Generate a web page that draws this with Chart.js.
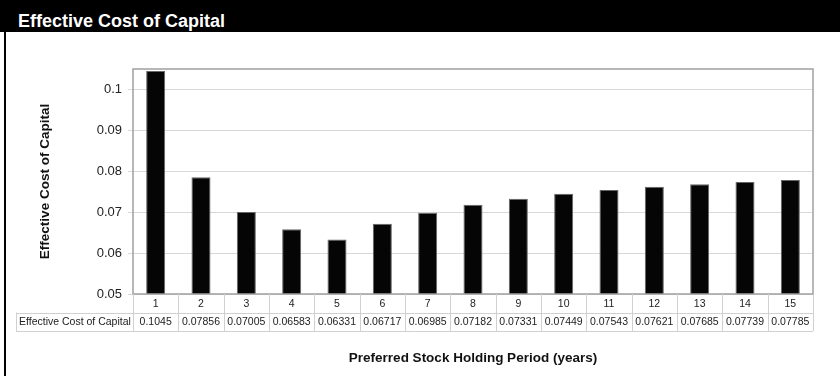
<!DOCTYPE html>
<html>
<head>
<meta charset="utf-8">
<script src="https://cdn.jsdelivr.net/npm/chart.js@4"></script>
<style>
  html, body { margin: 0; padding: 0; background: #fff; width: 840px; height: 376px; overflow: hidden;
    font-family: "Liberation Sans", Arial, sans-serif; }
  #bar { position: absolute; left: 0; top: 0; width: 840px; height: 32px; background: #000; color: #fff;
    font-weight: bold; font-size: 18px; line-height: 18px; padding: 12px 0 0 18px; box-sizing: border-box; }
  #edge { position: absolute; left: 4px; top: 32px; width: 2px; height: 344px; background: #000; }
  #c { position: absolute; left: 0; top: 32px; }
</style>
</head>
<body>
<div id="bar">Effective Cost of Capital</div>
<canvas id="c" width="840" height="344"></canvas>
<div id="edge"></div>
<script>
// holding period (years) and the cost for each
const years = ['1', '2', '3', '4', '5', '6', '7', '8', '9', '10', '11', '12', '13', '14', '15'];
const costValues = [0.1045, 0.07856, 0.07005, 0.06583, 0.06331, 0.06717, 0.06985, 0.07182,
                    0.07331, 0.07449, 0.07543, 0.07621, 0.07685, 0.07739, 0.07785];
const yTicks = [0.05, 0.06, 0.07, 0.08, 0.09, 0.1];
const seriesName = 'Effective Cost of Capital';

const FONT = '"Liberation Sans", Arial, sans-serif';

// draws the data table under the plot (category row + value row)
const dataTable = {
    id: 'dataTable',
    afterDatasetsDraw(chart) {
        const ctx = chart.ctx;
        const area = chart.chartArea;
        // frame round the plot
        ctx.save();
        ctx.strokeStyle = '#a0a0a0';
        ctx.lineWidth = 1.5;
        ctx.strokeRect(area.left, area.top, area.right - area.left, area.bottom - area.top);
        ctx.restore();
    },
    afterDraw(chart) {
        const ctx = chart.ctx;
        const area = chart.chartArea;
        const xs = chart.scales.x;
        const step = xs.getPixelForValue(1) - xs.getPixelForValue(0);
        const top1 = area.bottom;
        const top2 = top1 + 18.5;
        const bottom2 = top2 + 18.5;
        const labelLeft = 16;

        ctx.save();
        ctx.strokeStyle = '#d0d0d0';
        ctx.lineWidth = 1;
        ctx.beginPath();
        for (let i = 0; i <= years.length; i++) {
            const px = Math.round(xs.getPixelForValue(i) - step / 2) + 0.5;
            ctx.moveTo(px, top1);
            ctx.lineTo(px, bottom2);
        }
        ctx.moveTo(labelLeft + 0.5, top2);
        ctx.lineTo(labelLeft + 0.5, bottom2);
        ctx.moveTo(labelLeft, Math.round(top2) + 0.5);
        ctx.lineTo(area.right, Math.round(top2) + 0.5);
        ctx.moveTo(labelLeft, Math.round(bottom2) + 0.5);
        ctx.lineTo(area.right, Math.round(bottom2) + 0.5);
        ctx.stroke();

        ctx.fillStyle = '#222';
        ctx.font = '10.5px ' + FONT;
        ctx.textBaseline = 'middle';
        ctx.textAlign = 'center';
        years.forEach((y, i) => {
            const cx = xs.getPixelForValue(i);
            ctx.fillText(y, cx, (top1 + top2) / 2 + 0.5);
            ctx.fillText(String(costValues[i]), cx, (top2 + bottom2) / 2 + 0.5);
        });
        ctx.textAlign = 'left';
        ctx.fillText(seriesName, labelLeft + 3, (top2 + bottom2) / 2 + 0.5);
        ctx.restore();
    }
};

new Chart(document.getElementById('c'), {
    type: 'bar',
    data: {
        labels: years,
        datasets: [{
            label: seriesName,
            data: costValues,
            backgroundColor: '#050505',
            borderColor: '#666',
            borderWidth: 1,
            categoryPercentage: 1,
            barPercentage: 0.42
        }]
    },
    options: {
        responsive: false,
        animation: false,
        devicePixelRatio: 1,
        layout: { padding: { top: 37, right: 27, left: 33, bottom: 6 } },
        plugins: {
            legend: { display: false },
            tooltip: { enabled: false }
        },
        scales: {
            x: {
                grid: { display: false },
                border: { display: false },
                ticks: { display: false },
                title: {
                    display: true,
                    text: 'Preferred Stock Holding Period (years)',
                    color: '#111',
                    font: { family: FONT, size: 13.5, weight: 'bold' }
                },
                afterFit(scale) { scale.height = 76; }
            },
            y: {
                min: 0.05,
                max: 0.105,
                ticks: {
                    stepSize: 0.01,
                    padding: 6,
                    color: '#222',
                    font: { family: FONT, size: 13 },
                    callback: v => String(+v.toFixed(4))
                },
                afterBuildTicks(scale) {
                    scale.ticks = yTicks.map(v => ({ value: v }));
                },
                grid: { color: '#d8d8d8', tickLength: 5, lineWidth: 1 },
                border: { display: false },
                title: {
                    display: true,
                    text: 'Effective Cost of Capital',
                    color: '#111',
                    font: { family: FONT, size: 13.5, weight: 'bold' }
                },
                afterFit(scale) { scale.width = 100; }
            }
        }
    },
    plugins: [dataTable]
});
</script>
</body>
</html>
